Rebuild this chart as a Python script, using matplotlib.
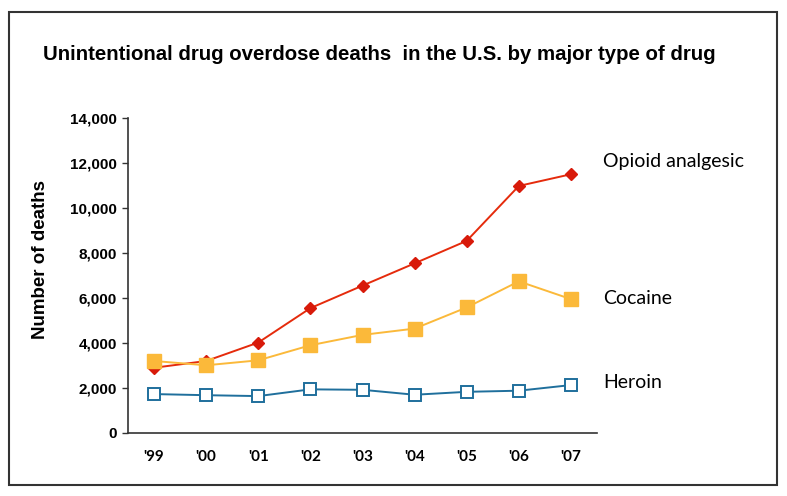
import matplotlib
matplotlib.use('Agg')
import matplotlib.pyplot as plt
from matplotlib.patches import Rectangle

years = ["'99", "'00", "'01", "'02", "'03", "'04", "'05", "'06", "'07"]
opioid = [2900, 3200, 4020, 5550, 6550, 7540, 8540, 10980, 11500]
cocaine = [3200, 3010, 3230, 3900, 4360, 4640, 5580, 6740, 5950]
heroin = [1730, 1680, 1640, 1940, 1920, 1700, 1830, 1880, 2130]
yticks = [0, 2000, 4000, 6000, 8000, 10000, 12000, 14000]

fig = plt.figure(figsize=(7.87, 4.96), dpi=100)
ax = fig.add_axes([128/787, 1-433/496, (597-128)/787, (433-118)/496])

x = list(range(len(years)))
ax.plot(x, opioid, color='#e52b0c', lw=1.4, marker='D', ms=6, mfc='#d81a0a', mec='#d81a0a')
ax.plot(x, cocaine, color='#fbb93a', lw=1.4, marker='s', ms=10, mfc='#fbb93a', mec='#fbb93a')
ax.plot(x, heroin, color='#1f6f9c', lw=1.4, marker='s', ms=8.5, mfc='white', mec='#1f6f9c', mew=1.4)

ax.set_xlim(-0.5, 8.5)
ax.set_ylim(0, 14000)
ax.set_yticks(yticks)
ax.set_yticklabels([f'{v:,}' for v in yticks], fontsize=11, fontweight='bold', family='Liberation Sans')
ax.set_xticks(x)
ax.set_xticklabels(years, fontsize=11, fontweight='bold', family='Lato')
ax.tick_params(axis='y', length=4, width=1, color='#333333', pad=4)
ax.tick_params(axis='x', length=0, pad=12)
for s in ['top', 'right']:
    ax.spines[s].set_visible(False)
for s in ['left', 'bottom']:
    ax.spines[s].set_color('#333333')
    ax.spines[s].set_linewidth(1.2)
ax.set_ylabel('Number of deaths', fontsize=13.5, fontweight='bold', family='Liberation Sans', labelpad=15)
ax.yaxis.label.set_y(0.55)

# series labels
lab_font = dict(fontsize=14, family='Lato', va='center', ha='left')
fig.text(603/787, 1-161/496, 'Opioid analgesic', **lab_font)
fig.text(603/787, 1-298/496, 'Cocaine', **lab_font)
fig.text(603/787, 1-382/496, 'Heroin', **lab_font)

fig.text(43/787, 1-55/496, 'Unintentional drug overdose deaths  in the U.S. by major type of drug',
         fontsize=14.7, fontweight='bold', family='Liberation Sans',
         va='center', ha='left')

fig.patches.append(Rectangle((9/787, 1-485/496), (777-9)/787, (485-12)/496,
                             transform=fig.transFigure, fill=False, ec='#333333', lw=1.5))

fig.savefig('out.png', dpi=100)
